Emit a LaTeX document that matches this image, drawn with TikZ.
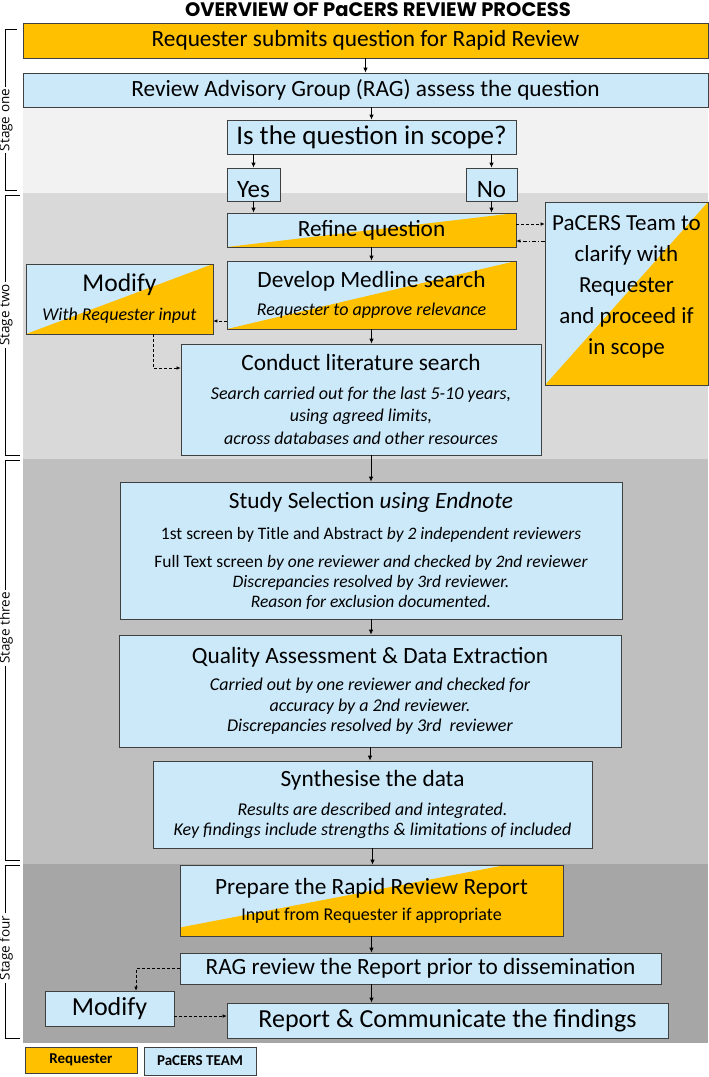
\documentclass[tikz,border=0pt]{standalone}
\usepackage{fontspec}
\setmainfont{Carlito}
\newfontfamily\titlefont{Poppins}
\newfontfamily\stagefont{Open Sans}
\usetikzlibrary{arrows.meta,calc}
\definecolor{org}{HTML}{FFC000}
\definecolor{lblue}{HTML}{CCE9FA}
\definecolor{bord}{HTML}{404040}
\definecolor{bgone}{HTML}{F2F2F2}
\definecolor{bgtwo}{HTML}{D9D9D9}
\definecolor{bgthree}{HTML}{BFBFBF}
\definecolor{bgfour}{HTML}{A6A6A6}
\begin{document}
\begin{tikzpicture}[x=1pt,y=-1pt,
  box/.style={draw=bord, line width=0.7pt, fill=lblue, align=center, inner sep=0pt, text=black},
  reqbox/.style={box, fill=org},
  split/.style={box, path picture={\fill[org] (path picture bounding box.south west) -- (path picture bounding box.north east) -- (path picture bounding box.south east) -- cycle;}},
  splitb/.style={box, path picture={\fill[org] ($(path picture bounding box.south west)!0.12!(path picture bounding box.north west)$) -- ($(path picture bounding box.north west)!0.85!(path picture bounding box.north east)$) -- (path picture bounding box.north east) -- (path picture bounding box.south east) -- (path picture bounding box.south west) -- cycle;}},
  big/.style={font=\fontsize{23.3}{28}\selectfont},
  sub/.style={font=\fontsize{18}{22}\selectfont},
  arr/.style={-{Latex[length=5pt,width=4.5pt]}, line width=0.9pt},
  dsh/.style={-{Latex[length=4pt,width=3.5pt]}, line width=0.6pt, dash pattern=on 3pt off 2pt},
  dshdot/.style={-{Latex[length=4pt,width=3.5pt]}, line width=0.6pt, dash pattern=on 4pt off 2pt on 1pt off 2pt},
  brk/.style={line width=0.7pt},
  stagelbl/.style={rotate=90, inner sep=2pt, font=\stagefont\fontsize{13.5}{16}\selectfont}
]
\useasboundingbox (0,0) rectangle (709,1077);
\fill[white] (0,0) rectangle (709,1077);
% stage backgrounds
\fill[bgone] (23,107) rectangle (708,193);
\fill[bgtwo] (23,193) rectangle (708,459);
\fill[bgthree] (23,459) rectangle (708,864);
\fill[bgfour] (23,864) rectangle (708,1043);

% title
\node[font=\titlefont\bfseries\fontsize{19.5}{22}\selectfont] (title) at (378,10) {OVERVIEW OF PaCERS REVIEW PROCESS};

% stage one
\node[reqbox, big, minimum width=685pt, minimum height=35pt] (req) at (365.5,40.5) {Requester submits question for Rapid Review};
\node[box, big, minimum width=685pt, minimum height=34pt] (rag) at (365.5,90) {Review Advisory Group (RAG) assess the question};
\node[box, font=\fontsize{27}{32}\selectfont, minimum width=289pt, minimum height=34pt] (q) at (371.5,137) {Is the question in scope?};
\node[box, font=\fontsize{25}{30}\selectfont, text height=26pt, text depth=0pt, minimum width=53pt, minimum height=33pt] (yes) at (253.5,184.5) {Yes};
\node[box, font=\fontsize{25}{30}\selectfont, text height=26pt, text depth=0pt, minimum width=51pt, minimum height=33pt] (no) at (491.5,184.5) {No};

% stage two
\node[split, big, minimum width=289pt, minimum height=34pt] (refine) at (371.5,230) {Refine question};
\node[split, font=\fontsize{23}{31}\selectfont, minimum width=163pt, minimum height=183pt] (pacers) at (626.5,293.5) {PaCERS Team to\\clarify with\\Requester\\and proceed if\\in scope\\[-14pt]\mbox{}};
\node[split, sub, minimum width=289pt, minimum height=68pt] (develop) at (371.5,295) {{\fontsize{23.3}{28}\selectfont Develop Medline search}\\[6pt]\textit{Requester to approve relevance}};
\node[split, sub, minimum width=187pt, minimum height=70pt] (modA) at (119.5,299) {{\fontsize{25.6}{30}\selectfont Modify}\\[7pt]\textit{With Requester input}};
\node[box, font=\fontsize{18}{22.5}\selectfont, minimum width=360pt, minimum height=111pt] (conduct) at (361,399.5) {{\fontsize{23.3}{28}\selectfont Conduct literature search}\\[6pt]\textit{Search carried out for the last 5-10 years,}\\\textit{using agreed limits,}\\\textit{across databases and other resources}};

% stage three
\node[box, font=\fontsize{17.5}{20}\selectfont, minimum width=502pt, minimum height=137pt] (study) at (371,550.5) {{\fontsize{23.3}{28}\selectfont Study Selection \textit{using Endnote}}\\[11pt]1st screen by Title and Abstract \textit{by 2 independent reviewers}\\[8pt]Full Text screen \textit{by one reviewer and checked by 2nd reviewer}\\\textit{Discrepancies resolved by 3rd reviewer.}\\\textit{Reason for exclusion documented.}};
\node[box, font=\fontsize{18}{20.5}\selectfont, minimum width=502pt, minimum height=112pt] (quality) at (370,691) {{\fontsize{23.3}{28}\selectfont Quality Assessment \& Data Extraction}\\[7pt]\textit{Carried out by one reviewer and checked for}\\\textit{accuracy by a 2nd reviewer.}\\\textit{Discrepancies resolved by 3rd\ \ reviewer}};
\node[box, font=\fontsize{18}{20.5}\selectfont, minimum width=439pt, minimum height=87pt] (synth) at (372.5,804.5) {{\fontsize{23.3}{28}\selectfont Synthesise the data}\\[8pt]\textit{Results are described and integrated.}\\\textit{Key findings include strengths \& limitations of included}};

% stage four
\node[splitb, sub, minimum width=383pt, minimum height=71pt] (prepare) at (371.5,900.5) {{\fontsize{23.3}{28}\selectfont Prepare the Rapid Review Report}\\[4pt]Input from Requester if appropriate};
\node[box, big, minimum width=481pt, minimum height=31pt] (ragrev) at (420.5,968.5) {RAG review the Report prior to dissemination};
\node[box, font=\fontsize{26}{30}\selectfont, minimum width=129pt, minimum height=35pt] (modB) at (109.5,1008.5) {Modify};
\node[box, font=\fontsize{26}{30}\selectfont, minimum width=441pt, minimum height=35pt] (report) at (447.5,1020.5) {Report \& Communicate the findings};

% legend
\node[reqbox, font=\bfseries\fontsize{15}{18}\selectfont, minimum width=112pt, minimum height=26pt] (legA) at (81,1060) {Requester};
\node[box, font=\bfseries\fontsize{15}{18}\selectfont, minimum width=112pt, minimum height=28pt] (legB) at (200,1061) {PaCERS TEAM};

% solid arrows
\draw[arr] (req.south) -- (rag.north);
\draw[arr] (rag.south -| q.north) -- (q.north);
\draw[arr] (yes.north |- q.south) -- (yes.north);
\draw[arr] (no.north |- q.south) -- (no.north);
\draw[arr] (yes.south) -- (yes.south |- refine.north);
\draw[arr] (no.south) -- (no.south |- refine.north);
\draw[arr] (refine.south) -- (develop.north);
\draw[arr] (develop.south) -- (develop.south |- conduct.north);
\draw[arr] (study.north |- conduct.south) -- (study.north);
\draw[arr] (study.south) -- (study.south |- quality.north);
\draw[arr] (quality.south) -- (quality.south |- synth.north);
\draw[arr] (synth.south) -- (synth.south |- prepare.north);
\draw[arr] (prepare.south) -- (prepare.south |- ragrev.north);
\draw[arr] (prepare.south |- ragrev.south) -- (prepare.south |- report.north);

% dashed connectors
\draw[dsh] ([yshift=6pt]refine.east) -- ([yshift=6pt]refine.east -| pacers.west);
\draw[dshdot] ([yshift=-11pt]refine.east -| pacers.west) -- ([yshift=-11pt]refine.east);
\draw[dsh] ([yshift=-26pt]develop.west) -- ([yshift=-26pt]develop.west -| modA.east);
\draw[dsh] ([xshift=33.5pt]modA.south) |- ([yshift=31.5pt]conduct.west);
\draw[dsh] (ragrev.west) -| ([xshift=26.5pt]modB.north);
\draw[dsh] ([yshift=-7.5pt]modB.east) -- ([yshift=-7.5pt]modB.east -| report.west);

% stage brackets
\node[stagelbl] (s1) at (6,120) {Stage one};
\node[stagelbl] (s2) at (6,315) {Stage two};
\node[stagelbl] (s3) at (6,628) {Stage three};
\node[stagelbl] (s4) at (6,948) {Stage four};
\draw[brk] (17,29) -- (5,29) -- (5,0 |- s1.east);
\draw[brk] (5,0 |- s1.west) -- (5,190) -- (17,190);
\draw[brk] (20,195) -- (5,195) -- (5,0 |- s2.east);
\draw[brk] (5,0 |- s2.west) -- (5,455) -- (20,455);
\draw[brk] (20,460) -- (5,460) -- (5,0 |- s3.east);
\draw[brk] (5,0 |- s3.west) -- (5,860) -- (20,860);
\draw[brk] (20,865) -- (5,865) -- (5,0 |- s4.east);
\draw[brk] (5,0 |- s4.west) -- (5,1038) -- (20,1038);
\end{tikzpicture}
\end{document}
